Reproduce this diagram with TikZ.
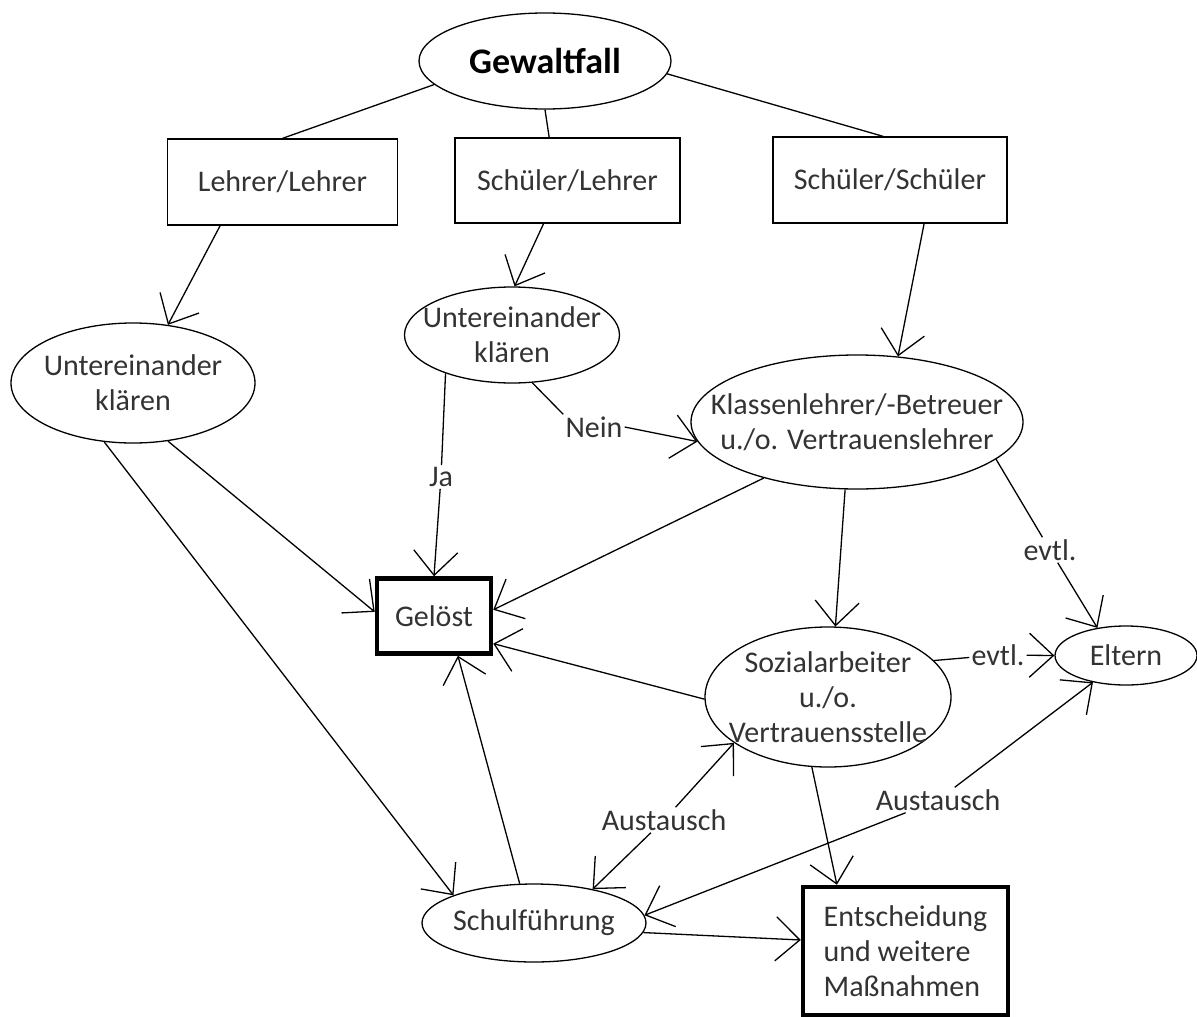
\documentclass[tikz,border=0pt]{standalone}
\usepackage{fontspec}
\setmainfont{Carlito}
\usetikzlibrary{arrows.meta, shapes.geometric, positioning}
\tikzset{
    boxNode/.style={rectangle, draw, line width=1.3pt, inner sep=0pt, text=black!80, font=\fontsize{30}{35}\selectfont},
    endNode/.style={boxNode, line width=4.5pt},
    ovalNode/.style={ellipse, draw, line width=1.3pt, inner sep=0pt},
    ovalText/.style={align=center, inner sep=0pt, text=black!80, font=\fontsize{30}{35}\selectfont},
    edgeLabel/.style={inner sep=2pt, text=black!80, font=\fontsize{30}{35}\selectfont},
    flowLine/.style={line width=1.3pt},
    flowEdge/.style={flowLine, -{Straight Barb[length=24pt, width=44pt]}},
}
\newcommand{\drawOval}[5]{
    \node[ovalNode, minimum width=#3pt, minimum height=#4pt, label={[ovalText]center:{#5}}] (#1) at (#2) {};
}
\newcommand{\drawVia}[3]{
    % Linie bis zur Beschriftung, dann Pfeil weiter
    \draw[flowLine] (#1) -- (#2);
    \draw[flowEdge] (#2) -- (#3);
}
\newcommand{\drawBoth}[3]{
    \draw[flowEdge] (#1) -- (#2);
    \draw[flowEdge] (#1) -- (#3);
}

\begin{document}
\begin{tikzpicture}[x=1pt, y=-1pt]
    \useasboundingbox (0,0) rectangle (1197,1017);

    \drawOval{gewalt}{545,61}{252}{96}{\fontsize{36}{40}\selectfont\bfseries\color{black} Gewaltfall}
    \node[boxNode, minimum width=230pt, minimum height=86pt] (ll) at (282.5,182) {Lehrer/Lehrer};
    \node[boxNode, minimum width=225pt, minimum height=85pt] (sl) at (567.5,180.5) {Schüler/Lehrer};
    \node[boxNode, minimum width=234pt, minimum height=86pt] (ss) at (890,180) {Schüler/Schüler};

    \drawOval{ukl}{133,383}{244}{120}{Untereinander\\klären}
    \drawOval{ukm}{512,335}{215}{96}{Untereinander\\klären}
    \drawOval{klass}{857,422}{332}{134}{Klassenlehrer/-Betreuer\\u./o. Vertrauenslehrer}
    \node[endNode, minimum width=114pt, minimum height=75pt] (geloest) at (434,616) {Gelöst};
    \drawOval{sozial}{828,697}{246}{140}{Sozialarbeiter\\u./o.\\Vertrauensstelle}
    \drawOval{eltern}{1126,655.5}{142}{59}{Eltern}
    \drawOval{schulf}{534,923}{224}{78}{Schulführung}
    \node[endNode, minimum width=205pt, minimum height=128pt, align=left] (entsch) at (905.5,951) {Entscheidung\\und weitere\\Maßnahmen};

    \node[edgeLabel] (ja) at (441,477) {Ja};
    \node[edgeLabel] (nein) at (594,427) {Nein};
    \node[edgeLabel] (evtlA) at (1050,550) {evtl.};
    \node[edgeLabel] (evtlB) at (998,655) {evtl.};
    \node[edgeLabel] (austA) at (664,820) {Austausch};
    \node[edgeLabel] (austB) at (938,800) {Austausch};

    \draw[flowLine] (gewalt.192) -- (ll.north);
    \draw[flowLine] (gewalt.south) -- (sl.113);
    \draw[flowLine] (gewalt.354) -- (ss.99);

    \draw[flowEdge] (ll.215) -- (ukl.59);
    \draw[flowEdge] (sl.241) -- (ukm.87);
    \draw[flowEdge] (ss.308) -- (klass.58);

    \drawVia{ukm.210}{ja}{geloest.north}
    \draw[flowLine] (ukm.293) -- (nein.north west);
    \draw[flowEdge] (nein.east) -- (klass.187);

    \draw[flowEdge] (ukl.301) -- (geloest.176);
    \draw[flowEdge] (ukl.244) -- (schulf.161);
    \draw[flowEdge] (klass.211) -- (geloest.6);
    \draw[flowEdge] (klass.260) -- (sozial.84);
    \drawVia{klass.345}{evtlA}{eltern.136}

    \draw[flowEdge] (sozial.181) -- (geloest.335);
    \drawVia{sozial.19}{evtlB}{eltern.180}
    \draw[flowEdge] (sozial.257) -- (entsch.136);
    \draw[flowEdge] (schulf.110) -- (geloest.301);
    \draw[flowEdge] (schulf.355) -- (entsch.174);

    \drawBoth{austA}{sozial.206}{schulf.30}
    \drawBoth{austB}{eltern.219}{schulf.4}

\end{tikzpicture}
\end{document}
